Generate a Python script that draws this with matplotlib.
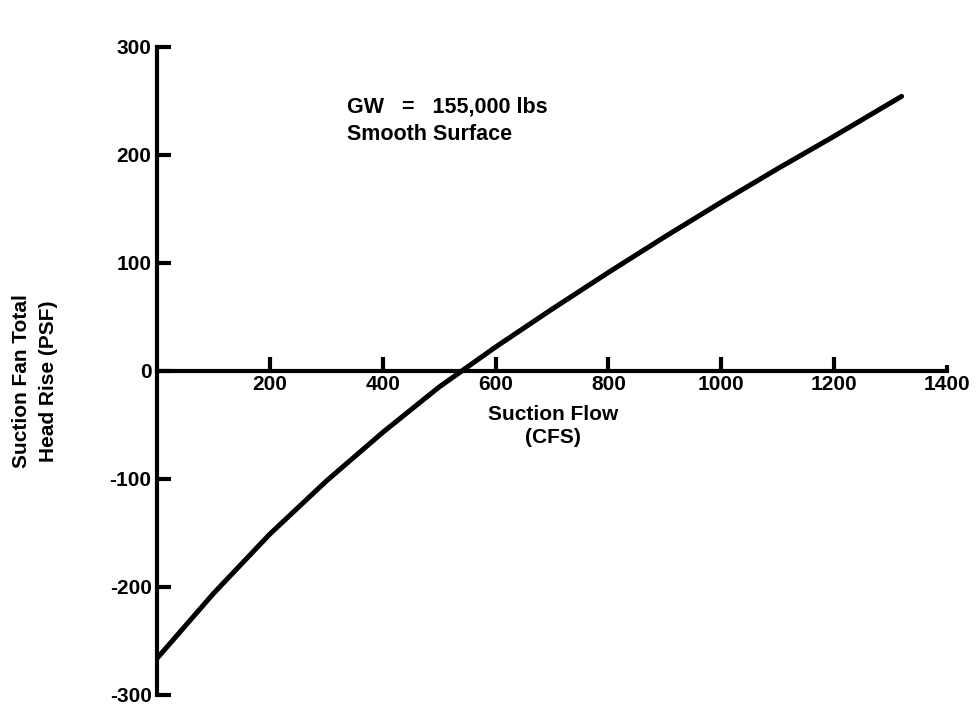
import matplotlib.pyplot as plt
import numpy as np

plt.rcParams['font.family'] = ['Liberation Sans', 'DejaVu Sans']

# suction fan curve, GW 155,000 lbs, smooth surface
flow = [0, 100, 200, 300, 400, 500, 600, 700, 800, 900, 1000, 1100, 1200, 1320]
head = [-266, -206, -151, -102, -57, -15, 22, 57, 91, 124, 156, 187, 217, 254]

x_ticks = [200, 400, 600, 800, 1000, 1200, 1400]
y_ticks = [-300, -200, -100, 0, 100, 200, 300]

fig = plt.figure(figsize=(9.76, 7.07), dpi=100)
ax = fig.add_axes([0.161, 0.017, 0.809, 0.917])

ax.plot(flow, head, color='black', lw=3.6, solid_capstyle='round',
        solid_joinstyle='round')

ax.set_xlim(0, 1400)
ax.set_ylim(-300, 300)

# axes drawn through the origin
ax.spines['top'].set_visible(False)
ax.spines['right'].set_visible(False)
ax.spines['bottom'].set_position(('data', 0))
ax.spines['left'].set_linewidth(3)
ax.spines['bottom'].set_linewidth(3)

ax.set_xticks(x_ticks)
ax.set_xticklabels([str(v) for v in x_ticks])
ax.set_yticks(y_ticks)
ax.set_yticklabels([str(v) for v in y_ticks])

ax.tick_params(axis='x', direction='in', length=10, width=3, pad=3,
               labelsize=15)
ax.tick_params(axis='y', direction='in', length=10, width=3, pad=4,
               labelsize=15)
for lab in ax.get_xticklabels() + ax.get_yticklabels():
    lab.set_fontweight('bold')
# last x tick is only a small dot
ax.xaxis.get_major_ticks()[-1].tick1line.set_markersize(4)

ax.text(702, -32, 'Suction Flow\n(CFS)', ha='center', va='top',
        fontsize=15, fontweight='bold', linespacing=1.25)

ax.text(337, 244, 'GW   =   155,000 lbs', ha='left', va='center',
        fontsize=15.5, fontweight='bold')
ax.text(337, 219, 'Smooth Surface', ha='left', va='center',
        fontsize=15.5, fontweight='bold')

fig.text(0.036, 1 - 381 / 707, 'Suction Fan Total\nHead Rise (PSF)',
         rotation=90, ha='center', va='center', fontsize=15,
         fontweight='bold', linespacing=1.5)

fig.savefig('out.png', dpi=100)
